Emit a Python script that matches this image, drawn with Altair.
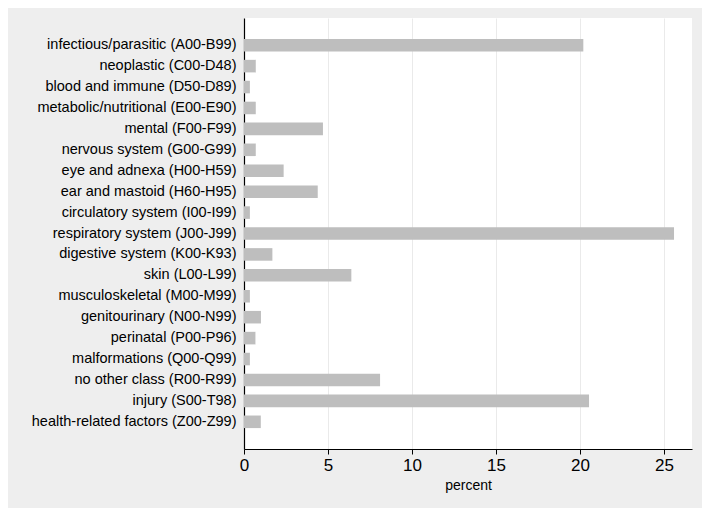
import altair as alt
import pandas as pd

categories = [
    "infectious/parasitic (A00-B99)",
    "neoplastic (C00-D48)",
    "blood and immune (D50-D89)",
    "metabolic/nutritional (E00-E90)",
    "mental (F00-F99)",
    "nervous system (G00-G99)",
    "eye and adnexa (H00-H59)",
    "ear and mastoid (H60-H95)",
    "circulatory system (I00-I99)",
    "respiratory system (J00-J99)",
    "digestive system (K00-K93)",
    "skin  (L00-L99)",
    "musculoskeletal (M00-M99)",
    "genitourinary (N00-N99)",
    "perinatal (P00-P96)",
    "malformations (Q00-Q99)",
    "no other class (R00-R99)",
    "injury (S00-T98)",
    "health-related factors (Z00-Z99)",
]
percent = [20.2, 0.7, 0.35, 0.7, 4.7, 0.7, 2.36, 4.39, 0.35, 25.6,
           1.69, 6.39, 0.35, 1.01, 0.68, 0.35, 8.1, 20.54, 1.0]
x_ticks = [0, 5, 10, 15, 20, 25]

df = pd.DataFrame({"category": categories, "percent": percent})

font = "Liberation Sans"

chart = alt.Chart(df).mark_bar(color="#BEBEBE").encode(
    x=alt.X("percent:Q",
            scale=alt.Scale(domain=[0, 26.67], nice=False, zero=True),
            axis=alt.Axis(title="percent", values=x_ticks, grid=True,
                          gridColor="#EAEAEA", gridWidth=1,
                          domainColor="#000000", domainWidth=1.2,
                          tickColor="#000000", tickSize=5,
                          labelFontSize=17, labelColor="#000000",
                          labelPadding=3, labelFont=font, labelFlush=False,
                          titleFontSize=14, titleFontWeight="normal",
                          titleColor="#000000", titleFont=font,
                          titlePadding=5)),
    y=alt.Y("category:N", sort=categories,
            scale=alt.Scale(paddingInner=0.4, paddingOuter=1.0),
            axis=alt.Axis(title=None, ticks=False, grid=False,
                          domainColor="#000000", domainWidth=1.2,
                          labelFontSize=14.5, labelColor="#000000",
                          labelFont=font, labelPadding=8,
                          labelLimit=400)),
).properties(
    width=448,
    height=431,
    autosize=alt.AutoSizeParams(type="none"),
    padding={"left": 236, "top": 10, "right": 10, "bottom": 59},
    background="#EEEEEE",
).configure_view(
    fill="#FFFFFF", stroke=None
)

chart.save("out.html", embed_options={"renderer": "svg", "actions": False})
